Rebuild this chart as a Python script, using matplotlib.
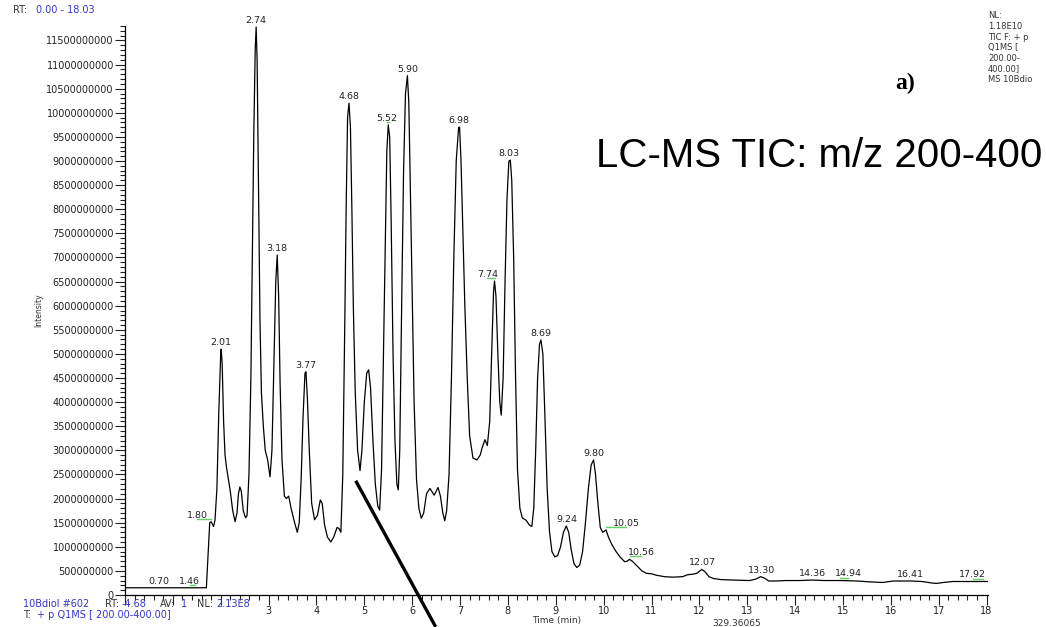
import numpy as np
import matplotlib
matplotlib.use("Agg")
import matplotlib.pyplot as plt
from matplotlib import ticker

# chromatogram trace (retention time in min, intensity in 1e9 counts)
rt = [0.00, 1.70, 1.74, 1.77, 1.80, 1.85, 1.88, 1.92, 1.96, 2.00, 2.01, 2.03, 2.06, 2.09,
      2.12, 2.16, 2.20, 2.25, 2.30, 2.34, 2.37, 2.40, 2.43, 2.47, 2.52, 2.55, 2.59, 2.63,
      2.66, 2.69, 2.72, 2.74, 2.76, 2.79, 2.82, 2.85, 2.89, 2.93, 2.98, 3.03, 3.07, 3.11,
      3.15, 3.18, 3.21, 3.24, 3.28, 3.33, 3.37, 3.42, 3.47, 3.53, 3.60, 3.64, 3.68, 3.72,
      3.76, 3.78, 3.81, 3.85, 3.90, 3.96, 4.02, 4.08, 4.12, 4.17, 4.23, 4.30, 4.36, 4.43,
      4.47, 4.51, 4.55, 4.59, 4.62, 4.65, 4.68, 4.71, 4.74, 4.77, 4.81, 4.86, 4.91, 4.95,
      5.00, 5.05, 5.09, 5.13, 5.18, 5.23, 5.28, 5.32, 5.36, 5.40, 5.44, 5.47, 5.50, 5.53,
      5.56, 5.60, 5.64, 5.68, 5.71, 5.74, 5.78, 5.82, 5.86, 5.90, 5.93, 5.96, 6.00, 6.04,
      6.09, 6.14, 6.19, 6.24, 6.30, 6.37, 6.46, 6.54, 6.59, 6.64, 6.68, 6.72, 6.77, 6.82,
      6.87, 6.92, 6.97, 6.99, 7.02, 7.06, 7.10, 7.15, 7.20, 7.27, 7.35, 7.42, 7.46, 7.52,
      7.57, 7.62, 7.66, 7.70, 7.72, 7.75, 7.79, 7.83, 7.86, 7.90, 7.94, 7.98, 8.02, 8.05,
      8.08, 8.12, 8.16, 8.20, 8.25, 8.30, 8.38, 8.45, 8.50, 8.54, 8.58, 8.62, 8.66, 8.69,
      8.73, 8.77, 8.82, 8.87, 8.92, 8.98, 9.04, 9.10, 9.16, 9.22, 9.27, 9.32, 9.38, 9.44,
      9.50, 9.56, 9.62, 9.68, 9.74, 9.79, 9.83, 9.88, 9.93, 9.98, 10.02, 10.05, 10.10,
      10.17, 10.26, 10.35, 10.44, 10.49, 10.54, 10.60, 10.70, 10.80, 10.89, 11.00, 11.10,
      11.27, 11.45, 11.65, 11.75, 11.85, 11.95, 12.05, 12.12, 12.20, 12.30, 12.45, 12.70,
      13.05, 13.18, 13.28, 13.36, 13.45, 13.60, 13.80, 14.10, 14.36, 14.60, 14.94, 15.30,
      15.60, 15.83, 16.05, 16.41, 16.65, 16.85, 16.95, 17.10, 17.30, 17.60, 17.92, 18.03]
inten = [0.15, 0.15, 0.90, 1.50, 1.52, 1.42, 1.55, 2.20, 3.80, 5.00, 5.10, 4.80, 3.60, 2.90,
         2.65, 2.40, 2.15, 1.75, 1.52, 1.70, 2.10, 2.24, 2.15, 1.75, 1.60, 1.65, 2.50, 4.50,
         7.00, 9.50, 11.30, 11.78, 11.10, 8.50, 5.70, 4.20, 3.50, 3.00, 2.80, 2.45, 3.00, 4.80,
         6.50, 7.05, 6.20, 4.40, 2.80, 2.05, 2.00, 2.05, 1.80, 1.55, 1.30, 1.50, 2.40, 3.70,
         4.60, 4.63, 4.10, 3.00, 1.90, 1.56, 1.65, 1.97, 1.90, 1.45, 1.20, 1.10, 1.20, 1.40,
         1.38, 1.30, 2.50, 5.50, 8.00, 9.90, 10.20, 9.70, 8.00, 6.00, 4.20, 3.00, 2.58, 3.00,
         4.00, 4.60, 4.67, 4.30, 3.20, 2.30, 1.85, 1.76, 2.60, 5.00, 7.50, 9.20, 9.75, 9.50,
         7.80, 5.00, 3.20, 2.30, 2.18, 3.00, 6.00, 8.80, 10.40, 10.77, 10.20, 8.50, 6.20, 4.00,
         2.40, 1.80, 1.59, 1.70, 2.10, 2.21, 2.07, 2.23, 2.05, 1.70, 1.54, 1.75, 2.50, 4.50,
         7.00, 9.00, 9.70, 9.70, 9.00, 7.50, 6.00, 4.50, 3.30, 2.84, 2.80, 2.90, 3.05, 3.22,
         3.10, 3.60, 5.00, 6.30, 6.51, 6.20, 5.00, 4.00, 3.73, 4.50, 6.50, 8.20, 9.00, 9.02,
         8.60, 7.00, 4.50, 2.60, 1.80, 1.60, 1.55, 1.45, 1.42, 1.80, 3.00, 4.50, 5.20, 5.29,
         5.00, 3.80, 2.20, 1.30, 0.90, 0.79, 0.82, 1.00, 1.30, 1.43, 1.30, 0.95, 0.65, 0.57,
         0.62, 0.90, 1.50, 2.20, 2.70, 2.80, 2.50, 1.90, 1.40, 1.30, 1.33, 1.35, 1.20,
         1.05, 0.90, 0.78, 0.69, 0.70, 0.74, 0.70, 0.60, 0.50, 0.45, 0.44, 0.41,
         0.38, 0.37, 0.38, 0.42, 0.43, 0.45, 0.53, 0.48, 0.38, 0.34, 0.32, 0.31,
         0.30, 0.33, 0.38, 0.35, 0.29, 0.29, 0.30, 0.30, 0.31, 0.30, 0.30, 0.29,
         0.27, 0.26, 0.29, 0.29, 0.28, 0.25, 0.24, 0.26, 0.28, 0.28, 0.28, 0.28]

# peak labels
peak_labels = ["0.70", "1.46", "1.80", "2.01", "2.74", "3.18", "3.77", "4.68", "5.52", "5.90",
               "6.98", "7.74", "8.03", "8.69", "9.24", "9.80", "10.05", "10.56", "12.07",
               "13.30", "14.36", "14.94", "16.41", "17.92"]
# labels drawn with a green baseline mark
marked = ["1.46", "1.80", "5.52", "7.74", "10.05", "10.56", "14.94", "17.92"]

yticks = np.arange(0, 11.5e9 + 1, 5e8)

rt = np.array(rt)
inten = np.array(inten) * 1e9

W, H = 1046, 627
fig = plt.figure(figsize=(W / 100, H / 100), dpi=100)
ax = fig.add_axes([125 / W, 1 - 595 / H, (988 - 125) / W, (595 - 26) / H])

ax.plot(rt, inten, color='black', lw=0.9)
ax.set_xlim(0, 18.03)
ax.set_ylim(0, 1.18e10)

for s in ['top', 'right']:
  ax.spines[s].set_visible(False)
for s in ['left', 'bottom']:
  ax.spines[s].set_linewidth(0.9)

ax.set_yticks(yticks)
ax.yaxis.set_minor_locator(ticker.MultipleLocator(1e8))
ax.yaxis.set_major_formatter(ticker.FuncFormatter(lambda v, p: "%d" % int(round(v))))
ax.xaxis.set_major_locator(ticker.MultipleLocator(1))
ax.xaxis.set_minor_locator(ticker.MultipleLocator(0.2))
ax.xaxis.set_major_formatter(ticker.FuncFormatter(lambda v, p: "" if v < 2.5 else "%d" % round(v)))
ax.tick_params(which='major', length=7, width=0.8, colors='#222222', labelsize=7, pad=1)
ax.tick_params(which='minor', length=3.5, width=0.8, colors='#222222')

# peak labels
dx_px = {"1.46": -5, "1.80": -14, "5.52": -2, "7.74": -8, "10.05": 20, "10.56": 11,
         "14.94": 8, "17.92": -10}
for lab in peak_labels:
  r = float(lab)
  m = (rt > r - 0.05) & (rt < r + 0.05)
  top = inten[m].max() if m.any() else np.interp(r, rt, inten)
  dx = dx_px.get(lab, 0) * 0.72
  ax.annotate(lab, (r, top), xytext=(dx, 1.5), textcoords='offset points',
              ha='center', va='bottom', fontsize=6.8, color='#222222')
  if lab in marked:
    x2 = r + dx_px[lab] / 47.9
    ax.plot([min(r, x2), max(r, x2)], [top + 0.06e9, top + 0.06e9], color='#66cc66', lw=1.0)

# hand-drawn diagonal stroke
ax.plot([4.82, 6.49], [2.37e9, -0.66e9], color='black', lw=2.4, clip_on=False,
        solid_capstyle='butt')

blue = '#3535c8'
dark = '#333333'
fig.text(13 / W, 1 - 10 / H, "RT:", fontsize=7, color=dark, va='center')
fig.text(36 / W, 1 - 10 / H, "0.00 - 18.03", fontsize=7, color=blue, va='center')

fig.text(39 / W, 1 - 310 / H, "Intensity", fontsize=5.5, color=dark, rotation=90,
         ha='center', va='center')
fig.text(557 / W, 1 - 620 / H, "Time (min)", fontsize=6.5, color=dark, ha='center', va='center')
fig.text(737 / W, 1 - 623 / H, "329.36065", fontsize=6.5, color=dark, ha='center', va='center')

# footer status line
parts1 = [(23, "10Bdiol #602", blue), (105, "RT:", dark), (122, "-4.68", blue),
          (160, "AV:", dark), (181, "1", blue), (197, "NL:", dark), (216, "2.13E8", blue)]
for x, s, c in parts1:
  fig.text(x / W, 1 - 604 / H, s, fontsize=7, color=c, va='center')
fig.text(23 / W, 1 - 615 / H, "T:", fontsize=7, color=dark, va='center')
fig.text(37 / W, 1 - 615 / H, "+ p Q1MS [ 200.00-400.00]", fontsize=7, color=blue, va='center')

info = ["NL:", "1.18E10", "TIC F: + p", "Q1MS [", "200.00-", "400.00]", "MS 10Bdio"]
for i, s in enumerate(info):
  fig.text(988 / W, 1 - (16 + i * 10.6) / H, s, fontsize=6, color=dark, va='center')

fig.text(905 / W, 1 - 83 / H, "a)", fontsize=17, fontweight='bold', family='Liberation Serif',
         ha='center', va='center', color='black')
fig.text(1042 / W, 1 - 167 / H, "LC-MS TIC: m/z 200-400", fontsize=29, family='Liberation Sans',
         ha='right', va='baseline', color='black')

fig.savefig('out.png', dpi=100)
